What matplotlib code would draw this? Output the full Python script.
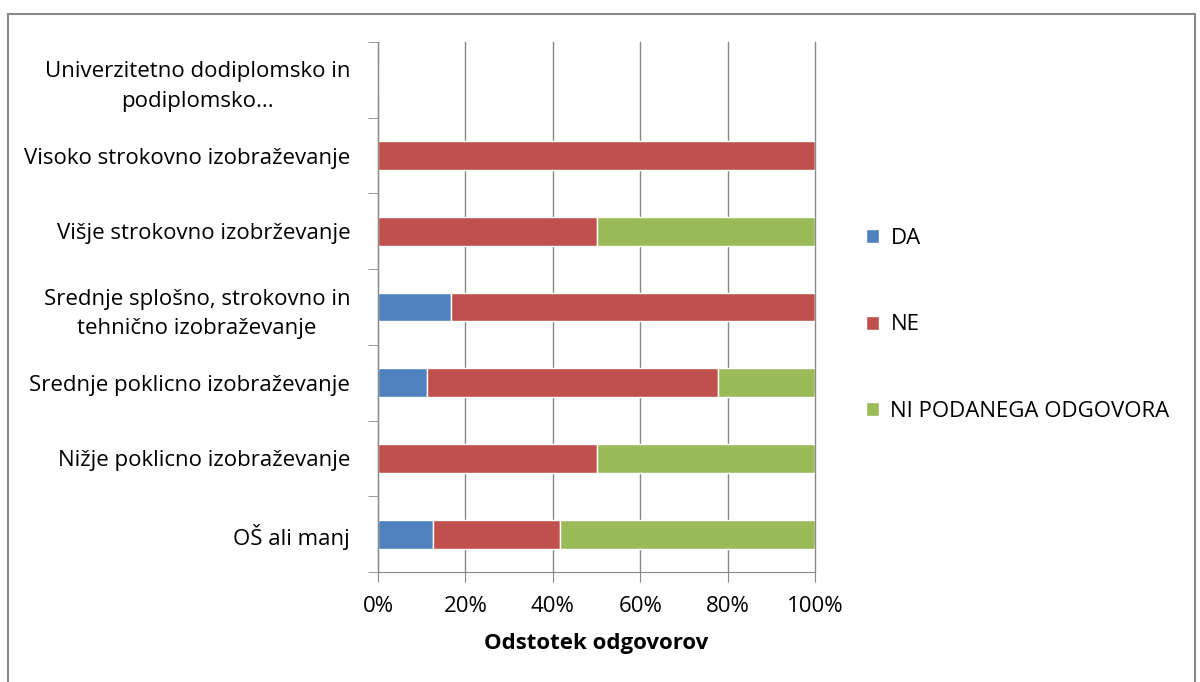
import matplotlib
matplotlib.use("Agg")
import matplotlib.pyplot as plt
from matplotlib.patches import Rectangle
import numpy as np

plt.rcParams['font.family'] = ['Open Sans', 'DejaVu Sans']

categories = ["OŠ ali manj", "Nižje poklicno izobraževanje", "Srednje poklicno izobraževanje",
              "Srednje splošno, strokovno in\ntehnično izobraževanje", "Višje strokovno izobrževanje",
              "Visoko strokovno izobraževanje", "Univerzitetno dodiplomsko in\npodiplomsko..."]
da = [12.5, 0.0, 11.1, 16.7, 0.0, 0.0, 0.0]
ne = [29.2, 50.0, 66.7, 83.3, 50.0, 100.0, 0.0]
ni = [58.3, 50.0, 22.2, 0.0, 50.0, 0.0, 0.0]
series_names = ["DA", "NE", "NI PODANEGA ODGOVORA"]
colors = ["#4F81BD", "#C0504D", "#9BBB59"]
xticks = [0, 20, 40, 60, 80, 100]
xticklabels = ["0%", "20%", "40%", "60%", "80%", "100%"]

W, H = 1200, 682
fig = plt.figure(figsize=(W/100, H/100), dpi=100)
fig.patches.append(Rectangle((8/W, -0.1), (1195-8)/W, (H-14)/H + 0.1, transform=fig.transFigure,
                             fill=False, edgecolor="#888888", linewidth=1.5))

ax = fig.add_axes([378/W, 1 - 572/H, (815-378)/W, (572-42)/H])
y = np.arange(len(categories))
left = np.zeros(len(categories))
for vals, name, c in zip([da, ne, ni], series_names, colors):
    vals = np.array(vals)
    ax.barh(y, vals, left=left, height=0.38, color=c, edgecolor="white", linewidth=1.0, label=name)
    left += vals

ax.set_xlim(0, 100)
ax.set_ylim(-0.5, len(categories) - 0.5)
ax.set_xticks(xticks)
ax.set_xticklabels(xticklabels, fontsize=16)
ax.set_yticks(y)
ax.set_yticklabels(categories, fontsize=16, ha="right", multialignment="center", linespacing=1.55)
ax.tick_params(axis='y', length=0, pad=20)
ax.set_yticks(np.arange(-0.5, len(categories), 1), minor=True)
ax.tick_params(axis='y', which='minor', length=7, color="#888888")
ax.tick_params(axis='x', length=7, color="#888888", pad=10)
ax.grid(axis='x', color="#888888", linewidth=1)
for gl in ax.get_xgridlines():
    gl.set_clip_on(False)
ax.set_axisbelow(True)
for s in ["top", "right"]:
    ax.spines[s].set_visible(False)
for s in ["left", "bottom"]:
    ax.spines[s].set_color("#888888")
ax.set_xlabel("Odstotek odgovorov", fontsize=16, fontweight="bold", labelpad=12)

handles, labels = ax.get_legend_handles_labels()
leg = fig.legend(handles, labels, loc="center left", bbox_to_anchor=(846/W, 1 - 325/H),
                 frameon=False, fontsize=16, handlelength=0.6, handleheight=0.6,
                 labelspacing=2.95, handletextpad=0.5)

fig.savefig("out.png", dpi=100)
